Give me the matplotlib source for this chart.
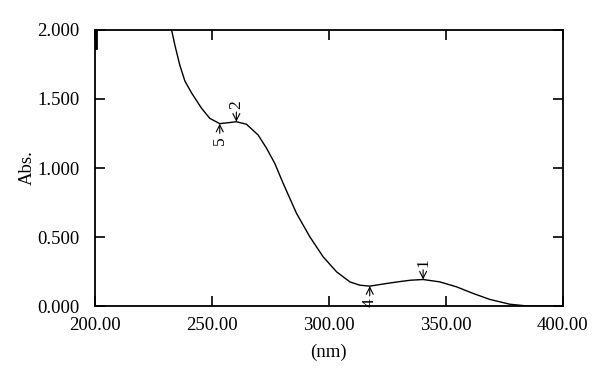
import matplotlib
matplotlib.use('Agg')
import matplotlib.pyplot as plt
from matplotlib.ticker import FormatStrFormatter

plt.rcParams['font.family'] = ['Liberation Serif', 'DejaVu Serif']

# absorption spectrum
wavelength = [232.8, 234.2, 236.3, 238.5, 241.3, 245.6, 249.1, 253.4, 257.0, 260.5,
              264.8, 269.8, 273.4, 276.9, 280.5, 286.2, 291.9, 297.6, 303.3, 309.0,
              313.2, 317.5, 324.6, 330.3, 335.0, 340.3, 347.4, 354.6, 361.7, 368.8,
              377.4, 384.5, 392.0, 400.0]
absorbance = [2.000, 1.891, 1.746, 1.630, 1.545, 1.433, 1.360, 1.321, 1.328, 1.335,
              1.317, 1.239, 1.143, 1.034, 0.889, 0.672, 0.502, 0.357, 0.249, 0.176,
              0.152, 0.145, 0.164, 0.178, 0.188, 0.193, 0.176, 0.140, 0.092, 0.049,
              0.014, 0.002, 0.0, 0.0]

# peak / valley picks
pick_labels = ['1', '2', '4', '5']
pick_nm = [340.3, 260.5, 317.5, 253.4]
pick_abs = [0.193, 1.335, 0.145, 1.321]
pick_up = [True, True, False, False]   # label above (arrow down) or below

fig = plt.figure(figsize=(6, 3.78), dpi=100)
ax = fig.add_axes([0.158, 0.19, 0.78, 0.731])

ax.plot(wavelength, absorbance, color='black', lw=1.0)
# short trace right at the left edge
ax.plot([200.4, 200.4], [2.0, 1.87], color='black', lw=2.0)

for lab, x, y, up in zip(pick_labels, pick_nm, pick_abs, pick_up):
    if up:
        ax.annotate(lab, xy=(x, y), xytext=(0, 9), textcoords='offset points',
                    rotation=90, ha='center', va='bottom', fontsize=12.5,
                    arrowprops=dict(arrowstyle='->', lw=0.8, color='black',
                                    shrinkA=0, shrinkB=0))
    else:
        ax.annotate(lab, xy=(x, y), xytext=(0, -9), textcoords='offset points',
                    rotation=90, ha='center', va='top', fontsize=12.5,
                    arrowprops=dict(arrowstyle='->', lw=0.8, color='black',
                                    shrinkA=0, shrinkB=0))

ax.set_xlim(200, 400)
ax.set_ylim(0, 2.0)
ax.set_xticks([200, 250, 300, 350, 400])
ax.set_yticks([0, 0.5, 1.0, 1.5, 2.0])
ax.xaxis.set_major_formatter(FormatStrFormatter('%.2f'))
ax.yaxis.set_major_formatter(FormatStrFormatter('%.3f'))
ax.tick_params(direction='in', length=7, width=1.2, labelsize=13.5,
               top=True, right=True)
ax.tick_params(axis='x', pad=8)
ax.tick_params(axis='y', pad=11)
for s in ax.spines.values():
    s.set_linewidth(1.3)

ax.set_xlabel('(nm)', fontsize=13.5, labelpad=7)
ax.set_ylabel('Abs.', fontsize=13.5, labelpad=1)

fig.savefig('out.png', dpi=100)
